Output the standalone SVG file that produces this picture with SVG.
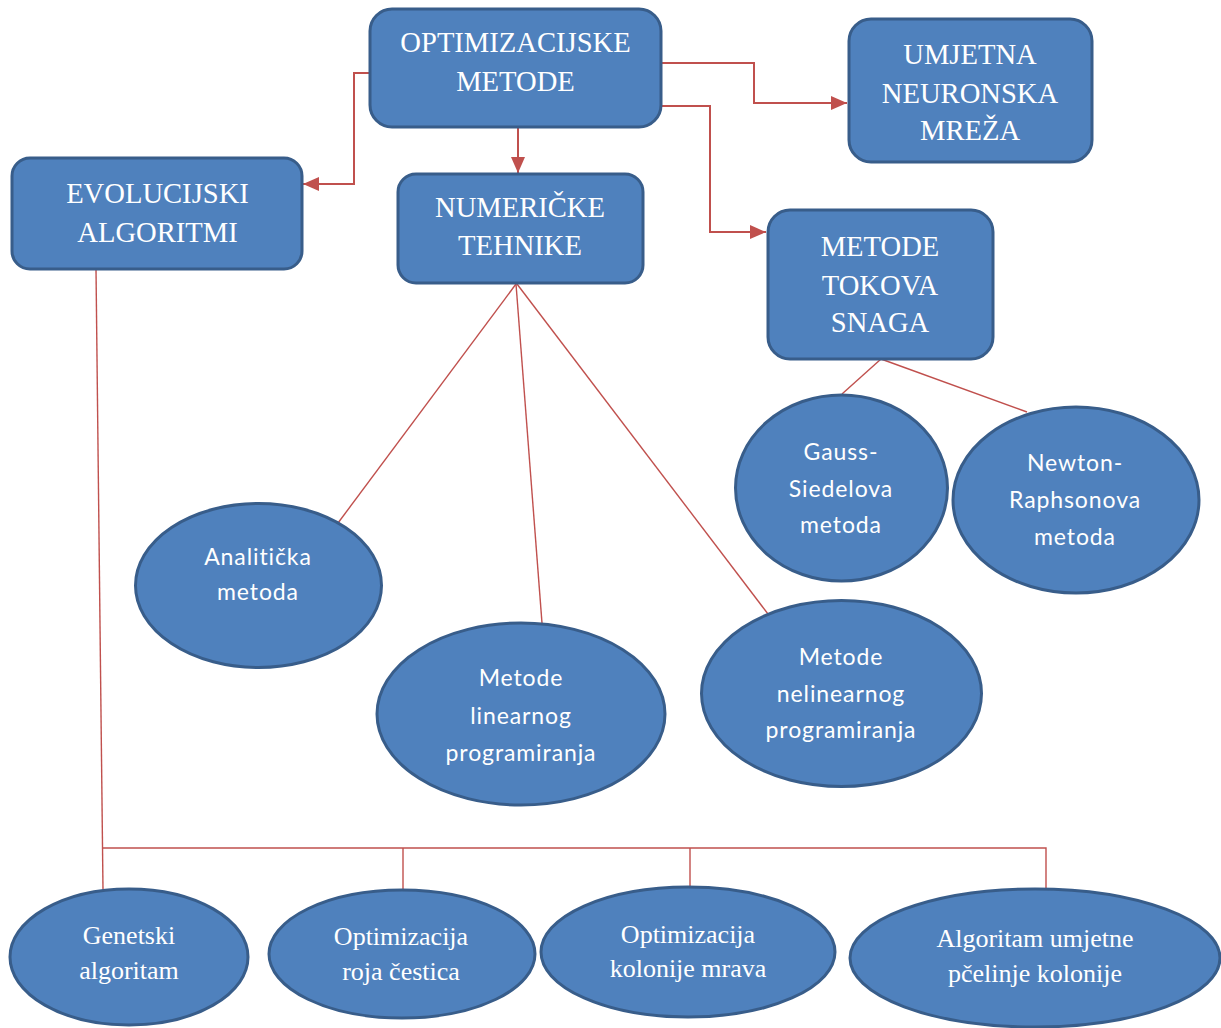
<svg xmlns="http://www.w3.org/2000/svg" width="1221" height="1028" viewBox="0 0 1221 1028">
<defs>
<style>
.box{fill:#4f81bd;stroke:#385d8a;stroke-width:3}
.ts{font-family:"Liberation Serif","Times New Roman",serif;fill:#fff;text-anchor:middle}
.big{font-size:28.6px}
.small{font-size:26px}
.sans{font-family:Lato,"Open Sans",sans-serif;font-size:23px;letter-spacing:0.9px;fill:#fff;text-anchor:middle}
.arr{fill:none;stroke:#c0504d;stroke-width:2;marker-end:url(#ah)}
.ln{fill:none;stroke:#c0504d;stroke-width:1.4}
</style>
<marker id="ah" markerUnits="userSpaceOnUse" markerWidth="16" markerHeight="14" viewBox="0 0 16 14" refX="16" refY="7" orient="auto">
<path d="M0,0 L16,7 L0,14 Z" fill="#c0504d"/>
</marker>
</defs>
<g id="connectors">
<path class="arr" d="M369,73 H354 V184 H303"/>
<path class="arr" d="M518,127 V173"/>
<path class="arr" d="M661,63 H754 V103 H847"/>
<path class="arr" d="M661,106 H710 V232 H766"/>
<path class="ln" d="M516,284 L338,523"/>
<path class="ln" d="M516,284 L542,623"/>
<path class="ln" d="M517,284 L768,614"/>
<path class="ln" d="M881,359 L842,394"/>
<path class="ln" d="M881,359 L1027,412"/>
<path class="ln" d="M96,269 L103,890"/>
<path class="ln" d="M102,848 H1046 V890"/>
<path class="ln" d="M403,848 V891"/>
<path class="ln" d="M690,848 V888"/>
</g>
<g id="optimizacijske">
<rect class="box" x="370" y="9" width="291" height="118" rx="22"/>
<text class="ts big" x="515.5" y="52">OPTIMIZACIJSKE</text>
<text class="ts big" x="515.5" y="91">METODE</text>
</g>
<g id="evolucijski">
<rect class="box" x="12" y="158" width="290" height="111" rx="18"/>
<text class="ts big" x="157.5" y="203">EVOLUCIJSKI</text>
<text class="ts big" x="157.5" y="242">ALGORITMI</text>
</g>
<g id="numericke">
<rect class="box" x="398" y="174" width="245" height="109" rx="18"/>
<text class="ts big" x="520" y="217">NUMERIČKE</text>
<text class="ts big" x="520" y="255">TEHNIKE</text>
</g>
<g id="umjetna">
<rect class="box" x="849" y="19" width="243" height="143" rx="22"/>
<text class="ts big" x="970" y="64">UMJETNA</text>
<text class="ts big" x="970" y="103">NEURONSKA</text>
<text class="ts big" x="970" y="140">MREŽA</text>
</g>
<g id="tokovi">
<rect class="box" x="768" y="210" width="225" height="149" rx="22"/>
<text class="ts big" x="880" y="256">METODE</text>
<text class="ts big" x="880" y="295">TOKOVA</text>
<text class="ts big" x="880" y="332">SNAGA</text>
</g>
<g id="gauss">
<ellipse class="box" cx="841.5" cy="488" rx="106" ry="93"/>
<text class="sans" x="841" y="460">Gauss-</text>
<text class="sans" x="841" y="497">Siedelova</text>
<text class="sans" x="841" y="533">metoda</text>
</g>
<g id="newton">
<ellipse class="box" cx="1076" cy="500" rx="123" ry="93"/>
<text class="sans" x="1075" y="471">Newton-</text>
<text class="sans" x="1075" y="508">Raphsonova</text>
<text class="sans" x="1075" y="545">metoda</text>
</g>
<g id="analiticka">
<ellipse class="box" cx="258.5" cy="585.5" rx="123" ry="82"/>
<text class="sans" x="258" y="565">Analitička</text>
<text class="sans" x="258" y="600">metoda</text>
</g>
<g id="linearno">
<ellipse class="box" cx="521" cy="714" rx="144" ry="91"/>
<text class="sans" x="521" y="686">Metode</text>
<text class="sans" x="521" y="724">linearnog</text>
<text class="sans" x="521" y="761">programiranja</text>
</g>
<g id="nelinearno">
<ellipse class="box" cx="841.5" cy="693.5" rx="140" ry="93"/>
<text class="sans" x="841" y="665">Metode</text>
<text class="sans" x="841" y="702">nelinearnog</text>
<text class="sans" x="841" y="738">programiranja</text>
</g>
<g id="genetski">
<ellipse class="box" cx="129" cy="957" rx="119" ry="68"/>
<text class="ts small" x="129" y="944">Genetski</text>
<text class="ts small" x="129" y="979">algoritam</text>
</g>
<g id="roj">
<ellipse class="box" cx="402" cy="954" rx="133" ry="64"/>
<text class="ts small" x="401" y="945">Optimizacija</text>
<text class="ts small" x="401" y="980">roja čestica</text>
</g>
<g id="mravi">
<ellipse class="box" cx="688" cy="952" rx="147" ry="65"/>
<text class="ts small" x="688" y="943">Optimizacija</text>
<text class="ts small" x="688" y="977">kolonije mrava</text>
</g>
<g id="pcele">
<ellipse class="box" cx="1035" cy="958" rx="185" ry="69"/>
<text class="ts small" x="1035" y="947">Algoritam umjetne</text>
<text class="ts small" x="1035" y="982">pčelinje kolonije</text>
</g>
</svg>
